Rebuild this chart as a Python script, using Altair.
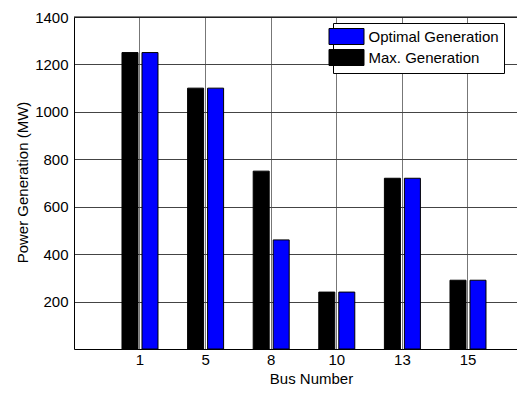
import altair as alt
import pandas as pd

buses = ["1", "5", "8", "10", "13", "15"]
max_gen = [1250, 1100, 750, 240, 720, 290]
opt_gen = [1250, 1100, 460, 240, 720, 290]
y_ticks = [200, 400, 600, 800, 1000, 1200, 1400]
legend_order = ["Optimal Generation", "Max. Generation"]
bar_order = ["Max. Generation", "Optimal Generation"]
colors = ["#0000ff", "#000000"]

rows = []
for b, m, o in zip(buses, max_gen, opt_gen):
    rows.append({"bus": b, "series": "Max. Generation", "value": m})
    rows.append({"bus": b, "series": "Optimal Generation", "value": o})
df = pd.DataFrame(rows)

FONT = "Liberation Sans"

bars = alt.Chart(df).mark_bar(stroke="black", strokeWidth=1).encode(
    x=alt.X(
        "bus:N",
        sort=buses,
        scale=alt.Scale(paddingInner=0, paddingOuter=0.3765, align=0.672),
        axis=alt.Axis(
            title="Bus Number",
            labelAngle=0,
            ticks=False,
            labelPadding=3,
            grid=True,
            gridColor="#777777",
            gridOpacity=1,
            bandPosition=0.5,
            domainColor="black",
            titleX=237,
            titleY=34,
            titleBaseline="alphabetic",
        ),
    ),
    xOffset=alt.XOffset(
        "series:N",
        sort=bar_order,
        scale=alt.Scale(paddingInner=0.2, paddingOuter=0.74),
    ),
    y=alt.Y(
        "value:Q",
        scale=alt.Scale(domain=[0, 1400], nice=False),
        axis=alt.Axis(
            values=y_ticks,
            format="d",
            title="Power Generation (MW)",
            ticks=False,
            labelPadding=6,
            grid=True,
            gridColor="#444444",
            gridOpacity=1,
            domainColor="black",
            titleX=-47,
            titleY=165,
            titleBaseline="alphabetic",
        ),
    ),
    color=alt.Color(
        "series:N",
        scale=alt.Scale(domain=legend_order, range=colors),
        legend=alt.Legend(
            title=None,
            orient="none",
            legendX=259,
            legendY=6,
            strokeColor="black",
            fillColor="white",
            padding=5,
            cornerRadius=0,
            symbolType="M-2.1875,-1H2.1875V1H-2.1875Z",
            symbolSize=256,
            symbolStrokeColor="black",
            symbolStrokeWidth=1,
            symbolOpacity=1,
            labelOffset=13.5,
            rowPadding=0,
            labelLimit=400,
            labelExpr="datum.label + '\u00a0\u00a0\u00a0\u00a0\u00a0\u00a0\u00a0\u00a0\u00a0\u00a0\u00a0\u00a0'",
        ),
    ),
)

top = alt.Chart(pd.DataFrame({"y": [1400]})).mark_rule(color="black", strokeWidth=1).encode(
    y=alt.Y("y:Q")
)

chart = alt.layer(bars, top).properties(
    width=443,
    height=332,
    autosize=alt.AutoSizeParams(type="none"),
    padding={"left": 66, "top": 9, "right": 0, "bottom": 38},
).configure_view(stroke=None).configure_axis(
    labelFont=FONT,
    titleFont=FONT,
    labelFontSize=15,
    titleFontSize=15,
    titleFontWeight="normal",
    labelColor="black",
    titleColor="black",
    gridWidth=1,
).configure_legend(
    labelFont=FONT,
    labelFontSize=15,
    labelColor="black",
)

chart.save("out.html", embed_options={"renderer": "svg", "actions": False})
